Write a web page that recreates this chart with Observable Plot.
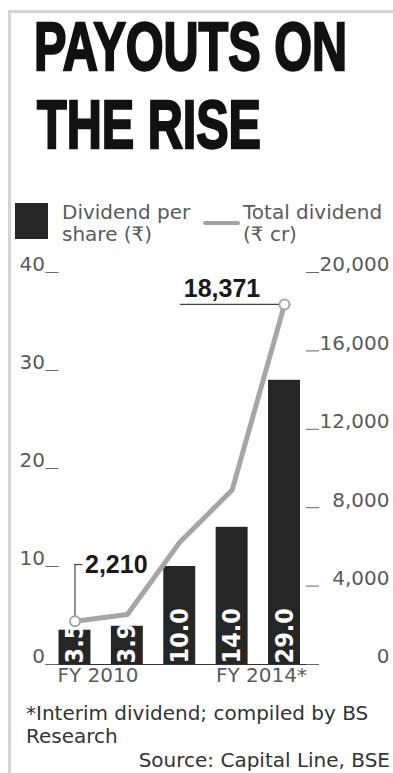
<!DOCTYPE html>
<html><head><meta charset="utf-8">
<script src="https://cdn.jsdelivr.net/npm/d3@7"></script>
<script src="https://cdn.jsdelivr.net/npm/@observablehq/plot@0.6"></script>
<style>
html,body{margin:0;padding:0;background:#fff;}
#chart{position:relative;width:393px;height:773px;overflow:hidden;background:#fff;font-family:"DejaVu Sans","Noto Sans",sans-serif;}
.t{position:absolute;white-space:nowrap;font-size:20px;color:#5a5a5a;}
.title{position:absolute;white-space:nowrap;font-family:"Liberation Sans Narrow","Liberation Sans",sans-serif;font-weight:bold;font-size:69px;color:#111;-webkit-text-stroke:2.4px #111;}
.foot{color:#333;}
</style></head><body><div id="chart"></div>
<script>
// ---- data ----
const years = ["FY 2010", "FY 2011", "FY 2012", "FY 2013", "FY 2014*"];
const dividendPerShare = [3.5, 3.9, 10.0, 14.0, 29.0];
const totalDividend = [2210, 2550, 6240, 8900, 18371];
const leftTicks = [0, 10, 20, 30, 40];
const rightTicks = [0, 4000, 8000, 12000, 16000, 20000];
const axisLabels = ["FY 2010", "FY 2014*"];
const titleLines = ["PAYOUTS ON", "THE RISE"];
const legendLabels = [["Dividend per", "share (₹)"], ["Total dividend", "(₹ cr)"]];
const footnoteLines = ["*Interim dividend; compiled by BS", "Research"];
const sourceText = "Source: Capital Line, BSE";

const ratio = 20000 / 40;      // right axis units per left axis unit
const calloutLevel = 10.2;     // left-axis level of the 2,210 callout
const data = years.map((year, i) => ({year, dps: dividendPerShare[i], total: totalDividend[i]}));
const first = data[0], last = data[data.length - 1];

const chart = document.getElementById("chart");

// frame lines
const frameTop = document.createElement("div");
Object.assign(frameTop.style, {position:"absolute", left:"9px", top:"10px", width:"384px", height:"3px", background:"#d4d4d4"});
const frameLeft = document.createElement("div");
Object.assign(frameLeft.style, {position:"absolute", left:"8px", top:"10px", width:"3px", height:"763px", background:"#d4d4d4"});
chart.append(frameTop, frameLeft);

function place(text, cls, left, baseline, opts = {}) {
  const el = document.createElement("div");
  el.className = cls;
  el.textContent = text;
  el.style.top = "0px";
  if (opts.right != null) el.style.right = opts.right + "px"; else el.style.left = left + "px";
  const m = document.createElement("span");
  Object.assign(m.style, {display:"inline-block", width:"0px", height:"0px", verticalAlign:"baseline"});
  el.appendChild(m);
  chart.appendChild(el);
  const base = m.getBoundingClientRect().top - el.getBoundingClientRect().top;
  el.style.top = (baseline - base) + "px";
  if (opts.width) {
    const w = el.getBoundingClientRect().width;
    el.style.transformOrigin = "0 0";
    el.style.transform = `scaleX(${opts.width / w})`;
  }
  return el;
}

// title
place(titleLines[0], "title", 34, 70, {width: 313});
place(titleLines[1], "title", 37, 148, {width: 224});

// legend
const sq = document.createElement("div");
Object.assign(sq.style, {position:"absolute", left:"15px", top:"203px", width:"33px", height:"36px", background:"#262626"});
const ln = document.createElement("div");
Object.assign(ln.style, {position:"absolute", left:"203px", top:"221px", width:"37px", height:"4px", background:"#a3a3a3", borderRadius:"2px"});
chart.append(sq, ln);
place(legendLabels[0][0], "t", 62, 219);
place(legendLabels[0][1], "t", 62, 241);
place(legendLabels[1][0], "t", 243, 219);
place(legendLabels[1][1], "t", 243, 241);

// footnote
place(footnoteLines[0], "t foot", 26, 720);
place(footnoteLines[1], "t foot", 26, 743);
place(sourceText, "t foot", 0, 767, {right: 3});

// ---- plot ----
const fmt = d3.format(",");
const plot = Plot.plot({
  width: 393,
  height: 450,
  marginLeft: 58.5, marginRight: 93, marginTop: 22, marginBottom: 36,
  style: {fontFamily: "DejaVu Sans, Noto Sans, sans-serif", fontSize: "20px", background: "transparent", overflow: "visible"},
  x: {type: "band", domain: years, paddingInner: 0.39, paddingOuter: 0, round: false, axis: null},
  y: {domain: [0, 40], axis: null},
  marks: [
    Plot.barY(data, {x: "year", y: "dps", fill: "#262626"}),
    Plot.text(data, {x: "year", y: 0, text: d => d.dps.toFixed(1), rotate: -90, textAnchor: "start", dy: -1,
      fill: "#fff", fontWeight: "bold", fontSize: 25, fontFamily: "Liberation Sans Narrow, DejaVu Sans Condensed, sans-serif"}),
    Plot.ruleY([0], {stroke: "#333", strokeWidth: 1.2, insetLeft: -13, insetRight: -17}),
    Plot.axisY(leftTicks, {anchor: "left", tickSize: 13, fill: "none", stroke: "#666", label: null}),
    Plot.axisY(leftTicks, {anchor: "left", tickSize: 0, tickPadding: 14, dy: -8, fill: "#5a5a5a", fontSize: 20, label: null}),
    Plot.axisY(rightTicks.map(v => v / ratio), {anchor: "right", tickSize: 13, dx: 5, fill: "none", stroke: "#666", label: null}),
    Plot.axisY(rightTicks.map(v => v / ratio), {anchor: "right", tickSize: 0, tickPadding: 0, dx: 89, dy: -7.5, textAnchor: "end",
      tickFormat: d => fmt(d * ratio), fill: "#5a5a5a", fontSize: 20, label: null}),
    Plot.ruleX([first], {x: "year", y1: d => d.total / ratio, y2: d => calloutLevel, stroke: "#444", strokeWidth: 1.2}),
    Plot.tickY([first], {x: "year", y: d => calloutLevel, insetLeft: 16, insetRight: 8, stroke: "#444", strokeWidth: 1.2}),
    Plot.line(data, {x: "year", y: d => d.total / ratio, stroke: "#a6a6a6", strokeWidth: 5, strokeLinejoin: "round"}),
    Plot.link([last], {x1: d => years[2], x2: "year", y1: d => d.total / ratio, y2: d => d.total / ratio, stroke: "#444", strokeWidth: 1.2}),
    Plot.dot([first, last], {x: "year", y: d => d.total / ratio, r: 5, fill: "#fff", stroke: "#a6a6a6", strokeWidth: 2}),
    Plot.text([last], {x: d => years[2], y: d => d.total / ratio, text: d => fmt(d.total), textAnchor: "start", lineAnchor: "bottom",
      dx: 4, dy: -7, fontWeight: "bold", fontSize: 25, fontFamily: "Liberation Sans, sans-serif", fill: "#1a1a1a"}),
    Plot.text([first], {x: "year", y: d => calloutLevel, text: d => fmt(d.total), textAnchor: "start",
      dx: 10, dy: 0, fontWeight: "bold", fontSize: 25, fontFamily: "Liberation Sans, sans-serif", fill: "#1a1a1a"}),
    Plot.text([axisLabels[0]], {x: d => d, text: d => d, frameAnchor: "bottom", dx: 23, dy: 17.6, fill: "#5a5a5a", fontSize: 20}),
    Plot.text([axisLabels[1]], {x: d => d, text: d => d, frameAnchor: "bottom", dx: -23, dy: 17.6, fill: "#5a5a5a", fontSize: 20})
  ]
});
Object.assign(plot.style, {position: "absolute", left: "0px", top: "250px"});
chart.appendChild(plot);
</script></body></html>
